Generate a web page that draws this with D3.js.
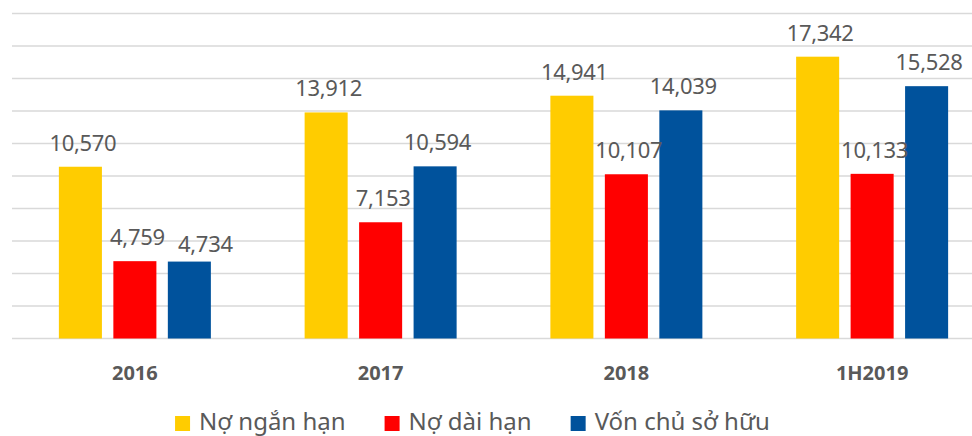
<!DOCTYPE html>
<html>
<head>
<meta charset="utf-8">
<script src="https://cdn.jsdelivr.net/npm/d3@7/dist/d3.min.js"></script>
<style>
  html, body { margin: 0; padding: 0; background: #fff; }
  svg { display: block; }
  text { font-family: "Noto Sans", "Open Sans", sans-serif; }
</style>
</head>
<body>
<svg id="chart" width="972" height="436"></svg>
<script>
const categories = ["2016", "2017", "2018", "1H2019"];
const seriesNames = ["Nợ ngắn hạn", "Nợ dài hạn", "Vốn chủ sở hữu"];
const shortTermDebt = [10570, 13912, 14941, 17342];
const longTermDebt = [4759, 7153, 10107, 10133];
const equity = [4734, 10594, 14039, 15528];
const seriesColors = ["#FFCC00", "#FF0000", "#00529C"];
const yTicks = [0, 2000, 4000, 6000, 8000, 10000, 12000, 14000, 16000, 18000, 20000];

const seriesValues = [shortTermDebt, longTermDebt, equity];
const data = categories.map((c, i) => ({
  cat: c,
  vals: seriesNames.map((s, j) => ({ s, j, c, v: seriesValues[j][i] }))
}));

const svg = d3.select("#chart");
const fmt = d3.format(",");

const x0 = d3.scaleBand().domain(categories).range([12, 995]).padding(0);
const bw = x0.bandwidth();
const groupW = 152;
const x1 = d3.scaleBand().domain(d3.range(3))
  .range([(bw - groupW) / 2, (bw + groupW) / 2]).paddingInner(0.21);
const y = d3.scaleLinear().domain([0, 20000]).range([338.5, 13.5]);

// manually moved data label in the original (2016, equity)
function labelShift(d) {
  if (d.c === "2016" && d.j === 2) return [16, 6];
  return [2.5, 0];
}

// gridlines
svg.append("g")
  .selectAll("line")
  .data(yTicks)
  .join("line")
  .attr("x1", 12).attr("x2", 972)
  .attr("y1", d => y(d)).attr("y2", d => y(d))
  .attr("stroke", "#D9D9D9").attr("stroke-width", 1.5);

// bars
const groups = svg.append("g").selectAll("g")
  .data(data).join("g")
  .attr("transform", d => `translate(${x0(d.cat)},0)`);

groups.selectAll("rect")
  .data(d => d.vals)
  .join("rect")
  .attr("x", d => x1(d.j))
  .attr("width", x1.bandwidth())
  .attr("y", d => y(d.v))
  .attr("height", d => y(0) - y(d.v))
  .attr("fill", d => seriesColors[d.j]);

groups.selectAll("text")
  .data(d => d.vals)
  .join("text")
  .attr("x", d => x1(d.j) + x1.bandwidth() / 2 + labelShift(d)[0])
  .attr("y", d => y(d.v) - 16 + labelShift(d)[1])
  .attr("text-anchor", "middle")
  .attr("font-size", 22)
  .attr("letter-spacing", -0.3)
  .attr("fill", "#595959")
  .text(d => fmt(d.v));

// category axis labels
svg.append("g").selectAll("text")
  .data(categories).join("text")
  .attr("x", d => x0(d) + bw / 2)
  .attr("y", 380)
  .attr("text-anchor", "middle")
  .attr("font-size", 20)
  .attr("font-weight", "bold")
  .attr("fill", "#595959")
  .text(d => d);

// legend
const legend = svg.append("g");
const items = legend.selectAll("g").data(seriesNames).join("g");
items.append("rect")
  .attr("width", 15).attr("height", 15)
  .attr("y", 416)
  .attr("fill", (d, i) => seriesColors[i]);
items.append("text")
  .attr("x", 24)
  .attr("y", 430)
  .attr("font-size", 24)
  .attr("fill", "#595959")
  .text(d => d);
let widths = [];
items.each(function() {
  widths.push(24 + d3.select(this).select("text").node().getComputedTextLength());
});
const gap = 39;
const total = d3.sum(widths) + gap * (widths.length - 1);
let cx = 472.5 - total / 2;
items.attr("transform", (d, i) => {
  const t = `translate(${cx},0)`;
  cx += widths[i] + gap;
  return t;
});
</script>
</body>
</html>
